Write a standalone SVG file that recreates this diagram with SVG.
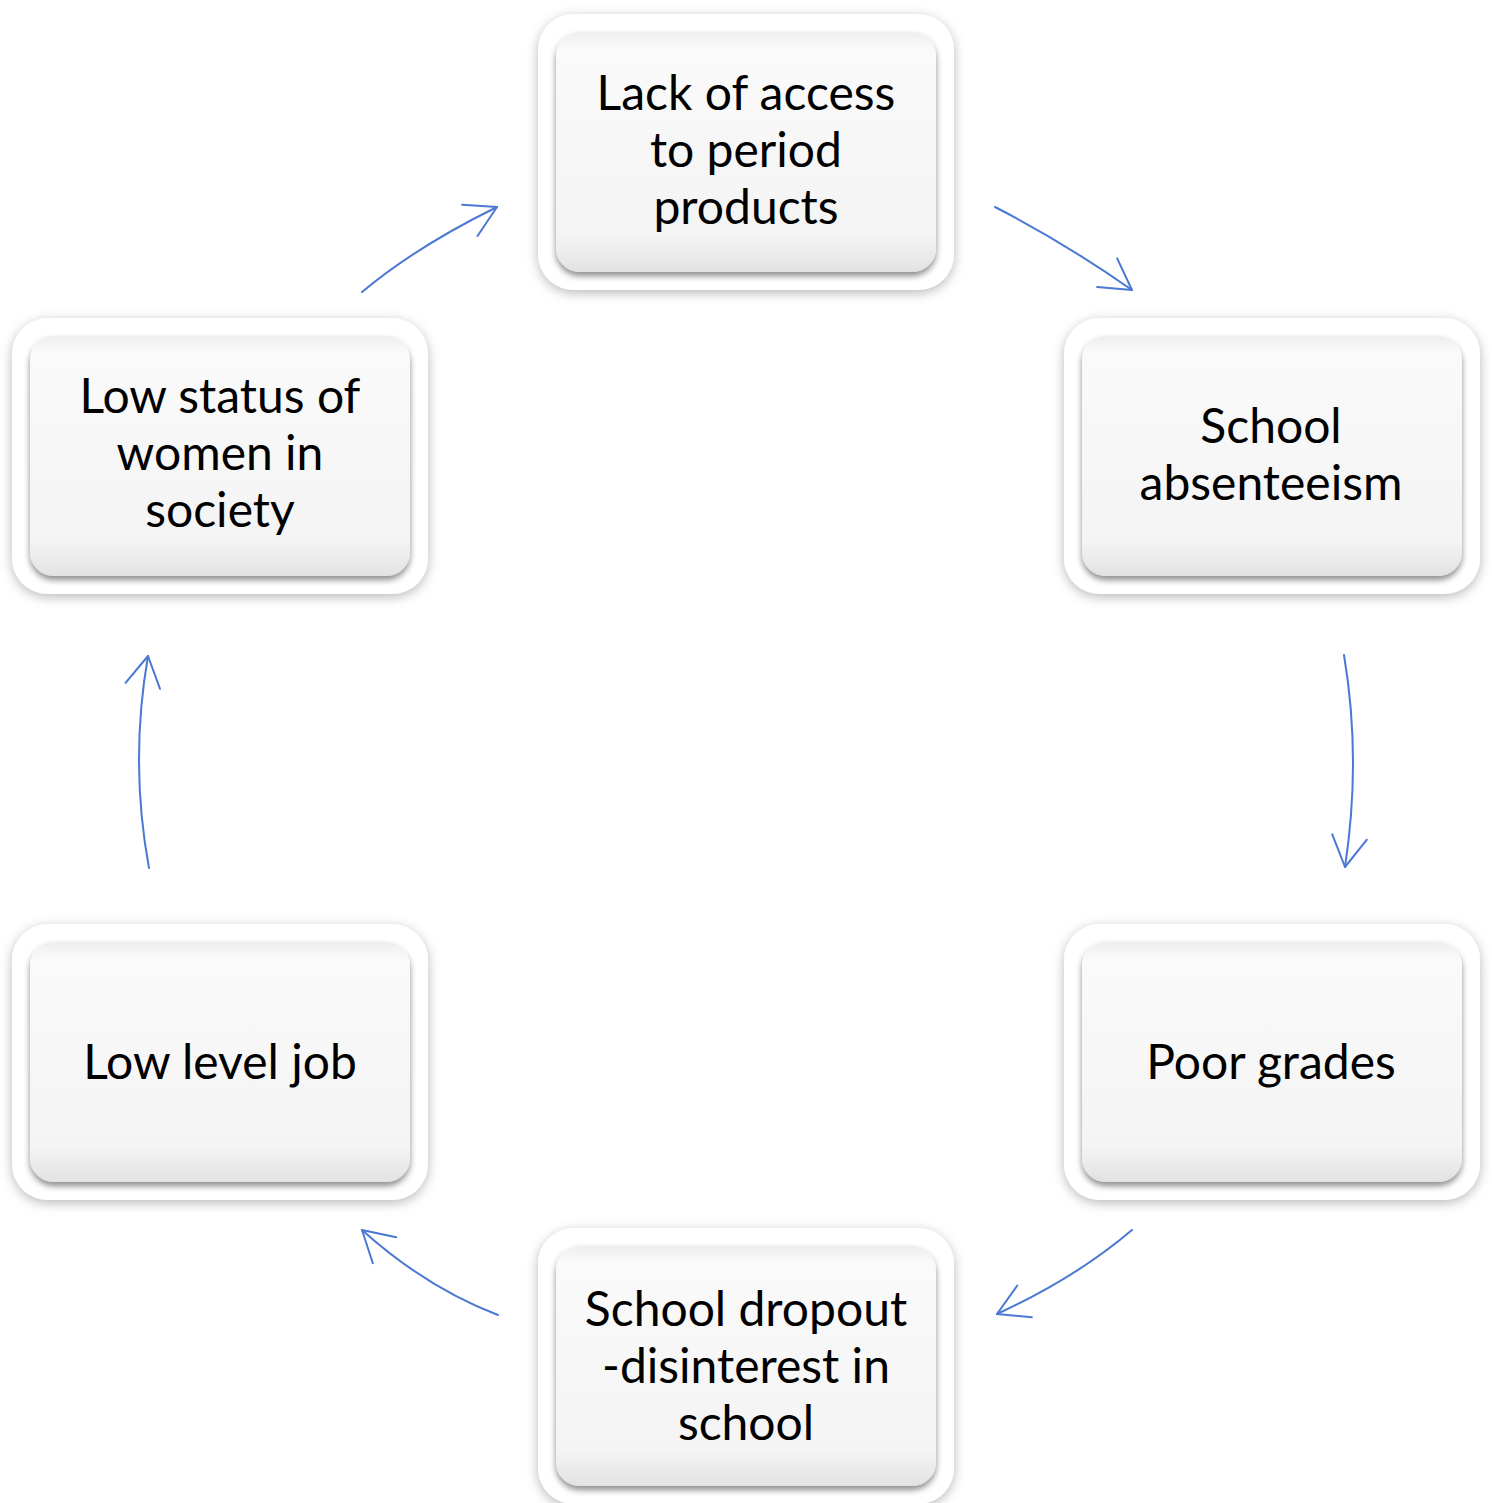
<svg xmlns="http://www.w3.org/2000/svg" width="1492" height="1503" viewBox="0 0 1492 1503">
<defs>
<filter id="outerShadow" x="-10%" y="-10%" width="120%" height="125%">
<feDropShadow dx="0" dy="3" stdDeviation="6" flood-color="#000" flood-opacity="0.28"/>
</filter>
<filter id="innerShadow" x="-10%" y="-10%" width="120%" height="125%">
<feDropShadow dx="0" dy="4" stdDeviation="3" flood-color="#000" flood-opacity="0.45"/>
</filter>
<linearGradient id="innerFill" x1="0" y1="0" x2="0" y2="1">
<stop offset="0" stop-color="#eeeeee"/>
<stop offset="0.07" stop-color="#fafafa"/>
<stop offset="0.85" stop-color="#f4f4f4"/>
<stop offset="1" stop-color="#e2e2e2"/>
</linearGradient>
<marker id="arrow" markerUnits="userSpaceOnUse" markerWidth="40" markerHeight="40" refX="0" refY="0" viewBox="-35 -20 40 40" orient="auto" overflow="visible">
<path d="M -30.3 -17.5 L 0 0 L -30.3 17.5" fill="none" stroke="#4a78d2" stroke-width="2" stroke-linecap="round" stroke-linejoin="round"/>
</marker>
</defs>
<style>
.outer { fill: #ffffff; filter: url(#outerShadow); }
.inner { fill: url(#innerFill); filter: url(#innerShadow); }
.label { font-family: "Lato", "Open Sans", "Liberation Sans", sans-serif; font-size: 48px; fill: #000000; text-anchor: middle; }
.conn { fill: none; stroke: #4a78d2; stroke-width: 2; stroke-linecap: round; marker-end: url(#arrow); }
</style>
<rect width="1492" height="1503" fill="#ffffff"/>

<g id="node-lack-of-access">
<rect class="outer" x="538" y="14" width="416" height="276" rx="36"/>
<rect class="inner" x="556" y="32" width="380" height="240" rx="24"/>
<text class="label" x="746" y="110">Lack of access</text>
<text class="label" x="746" y="167">to period</text>
<text class="label" x="746" y="224">products</text>
</g>

<g id="node-school-absenteeism">
<rect class="outer" x="1064" y="318" width="416" height="276" rx="36"/>
<rect class="inner" x="1082" y="336" width="380" height="240" rx="24"/>
<text class="label" x="1271" y="443">School</text>
<text class="label" x="1271" y="500">absenteeism</text>
</g>

<g id="node-poor-grades">
<rect class="outer" x="1064" y="924" width="416" height="276" rx="36"/>
<rect class="inner" x="1082" y="942" width="380" height="240" rx="24"/>
<text class="label" x="1271" y="1079">Poor grades</text>
</g>

<g id="node-school-dropout">
<rect class="outer" x="538" y="1228" width="416" height="276" rx="36"/>
<rect class="inner" x="556" y="1246" width="380" height="240" rx="24"/>
<text class="label" x="746" y="1326">School dropout</text>
<text class="label" x="746" y="1383">-disinterest in</text>
<text class="label" x="746" y="1440">school</text>
</g>

<g id="node-low-level-job">
<rect class="outer" x="12" y="924" width="416" height="276" rx="36"/>
<rect class="inner" x="30" y="942" width="380" height="240" rx="24"/>
<text class="label" x="220" y="1079">Low level job</text>
</g>

<g id="node-low-status">
<rect class="outer" x="12" y="318" width="416" height="276" rx="36"/>
<rect class="inner" x="30" y="336" width="380" height="240" rx="24"/>
<text class="label" x="220" y="413">Low status of</text>
<text class="label" x="220" y="470">women in</text>
<text class="label" x="220" y="527">society</text>
</g>

<g id="connectors">
<path class="conn" d="M 995 207 Q 1062.5 241.5 1132 290"/>
<path class="conn" d="M 1344 655 Q 1361.5 759 1345 867"/>
<path class="conn" d="M 1132 1230 Q 1075.5 1278 997 1314"/>
<path class="conn" d="M 498 1315 Q 426 1287.5 362 1230"/>
<path class="conn" d="M 149 868 Q 129.5 762 148 656"/>
<path class="conn" d="M 362 292 Q 416.5 246.5 497 207"/>
</g>
</svg>
